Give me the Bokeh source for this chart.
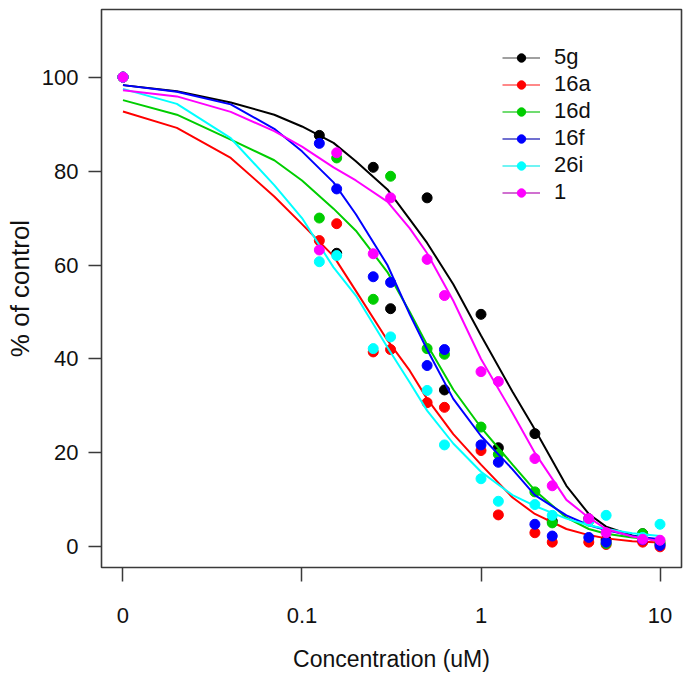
from bokeh.plotting import figure
from bokeh.models import FixedTicker, Range1d, Legend, LegendItem
from bokeh.embed import file_html
from bokeh.resources import INLINE

# ---------------- data ----------------
compounds = ["5g", "16a", "16d", "16f", "26i", "1"]
colors = ["#000000", "#FF0000", "#00CD00", "#0000FF", "#00FFFF", "#FF00FF"]
legend_line_colors = ["#808080", "#FF6060", "#40D040", "#4040C0", "#40F0F0", "#C040C0"]

# measured concentrations (uM); 0 = untreated control
conc = [0, 0.125, 0.15625, 0.25, 0.3125, 0.5, 0.625, 1, 1.25, 2, 2.5, 4, 5, 8, 10]

pct_5g = [100, 87.6, 62.5, 80.8, 50.7, 74.3, 33.4, 49.5, 21.1, 24.1, 5.5, 6.0, 1.5, 2.8, 0.6]
pct_16a = [100, 65.2, 68.8, 41.5, 42.0, 30.7, 29.7, 20.5, 6.8, 3.0, 1.0, 1.0, 0.5, 1.0, 0.0]
pct_16d = [100, 70.0, 82.8, 52.7, 78.9, 42.2, 41.0, 25.5, 19.7, 11.7, 5.1, 5.5, 0.7, 2.8, 1.0]
pct_16f = [100, 85.9, 76.2, 57.5, 56.3, 38.6, 42.0, 21.7, 18.0, 4.8, 2.3, 2.0, 1.0, 1.5, 0.3]
pct_26i = [100, 60.7, 62.0, 42.2, 44.7, 33.3, 21.7, 14.5, 9.7, 9.0, 6.7, 5.5, 6.7, 2.0, 4.8]
pct_1 = [100, 63.2, 83.9, 62.4, 74.3, 61.2, 53.5, 37.3, 35.2, 18.8, 13.0, 6.0, 3.0, 1.6, 1.4]

# fitted dose-response curves
curve_conc = [0.01, 0.02, 0.04, 0.07, 0.1, 0.15, 0.2, 0.3, 0.4, 0.5, 0.7, 1, 1.5, 2, 3, 4, 5, 7, 10]
fit_5g = [98.3, 97.0, 94.6, 92.0, 89.5, 86.0, 82.1, 76.1, 69.7, 64.7, 55.9, 45.0, 33.0, 25.0, 13.0, 7.0, 4.3, 2.4, 1.2]
fit_16a = [92.7, 89.2, 82.8, 74.6, 68.7, 61.9, 54.5, 44.0, 37.5, 31.5, 24.0, 17.5, 10.5, 7.0, 3.8, 2.5, 1.8, 1.2, 0.9]
fit_16d = [95.1, 92.0, 86.7, 82.3, 78.0, 72.0, 67.3, 58.5, 50.0, 43.0, 33.5, 25.4, 17.5, 12.0, 6.2, 3.8, 2.8, 2.0, 1.5]
fit_16f = [98.3, 96.9, 94.2, 89.0, 84.2, 77.6, 70.8, 60.0, 49.5, 42.0, 31.5, 23.6, 16.5, 11.0, 6.7, 4.6, 3.6, 2.3, 1.6]
fit_26i = [97.5, 94.3, 87.0, 77.0, 70.0, 59.5, 53.5, 42.5, 35.0, 29.0, 22.0, 16.0, 11.0, 8.7, 6.0, 4.6, 3.8, 2.9, 2.3]
fit_1 = [97.2, 95.9, 92.6, 88.5, 85.2, 80.8, 78.0, 73.5, 67.8, 62.5, 52.4, 40.0, 28.5, 20.0, 10.0, 6.2, 3.8, 2.2, 1.2]

x_ticks = [0.01, 0.1, 1, 10]
x_tick_labels = ["0", "0.1", "1", "10"]
y_ticks = [0, 20, 40, 60, 80, 100]
ZERO_POS = 0.01  # where the "0" concentration sits on the log axis

points = [pct_5g, pct_16a, pct_16d, pct_16f, pct_26i, pct_1]
fits = [fit_5g, fit_16a, fit_16d, fit_16f, fit_26i, fit_1]

# ---------------- figure ----------------
FONT = "Liberation Sans"
p = figure(
    frame_width=580, frame_height=558,
    x_axis_type="log",
    x_range=Range1d(10 ** -2.12, 10 ** 1.12),
    y_range=Range1d(-4.4, 114.4),
    output_backend="svg", toolbar_location=None,
    min_border_left=101, min_border_right=2, min_border_top=9, min_border_bottom=100,
)
p.background_fill_color = "white"
p.border_fill_color = "white"
p.grid.visible = False
p.outline_line_color = "#3a3a3a"
p.outline_line_width = 1.6

p.xaxis.ticker = FixedTicker(ticks=x_ticks)
p.xaxis.major_label_overrides = dict(zip(x_ticks, x_tick_labels))
p.yaxis.ticker = FixedTicker(ticks=y_ticks)

for ax in (p.xaxis[0], p.yaxis[0]):
    ax.axis_line_color = None
    ax.minor_tick_line_color = None
    ax.major_tick_in = 0
    ax.major_tick_line_color = "#3a3a3a"
    ax.major_tick_line_width = 1.5
    ax.major_label_text_font = FONT
    ax.major_label_text_font_size = "22px"
    ax.major_label_text_color = "#111111"
    ax.axis_label_text_font = FONT
    ax.axis_label_text_font_style = "normal"
    ax.axis_label_text_color = "#111111"

p.xaxis.major_tick_out = 14
p.yaxis.major_tick_out = 13
p.xaxis.major_label_standoff = 26
p.yaxis.major_label_standoff = 10
p.xaxis.axis_label = "Concentration (uM)"
p.xaxis.axis_label_text_font_size = "23px"
p.xaxis.axis_label_standoff = 20
p.yaxis.axis_label = "% of control"
p.yaxis.axis_label_text_font_size = "26px"
p.yaxis.axis_label_standoff = 4

x_points = [c if c > 0 else ZERO_POS for c in conc]
nan = float("nan")

legend_items = []
for name, col, lcol, ys, fy in zip(compounds, colors, legend_line_colors, points, fits):
    p.line(curve_conc, fy, line_color=col, line_width=2)
    p.scatter(x_points, ys, size=10, fill_color=col, line_color=col)
    # legend-only renderers (never visible in the plot area)
    lr = p.line([nan], [nan], line_color=lcol, line_width=1.6)
    sr = p.scatter([nan], [nan], size=10, fill_color=col, line_color=col)
    legend_items.append(LegendItem(label=name, renderers=[lr, sr]))

legend = Legend(
    items=legend_items,
    location=(401, 362),
    border_line_color=None,
    background_fill_alpha=0,
    padding=0, margin=0,
    glyph_width=38, glyph_height=21,
    label_height=21,
    spacing=1,
    label_standoff=14,
    label_text_font=FONT,
    label_text_font_size="22px",
    label_text_color="#111111",
)
p.add_layout(legend, "center")

open("out.html", "w").write(file_html(p, INLINE))
